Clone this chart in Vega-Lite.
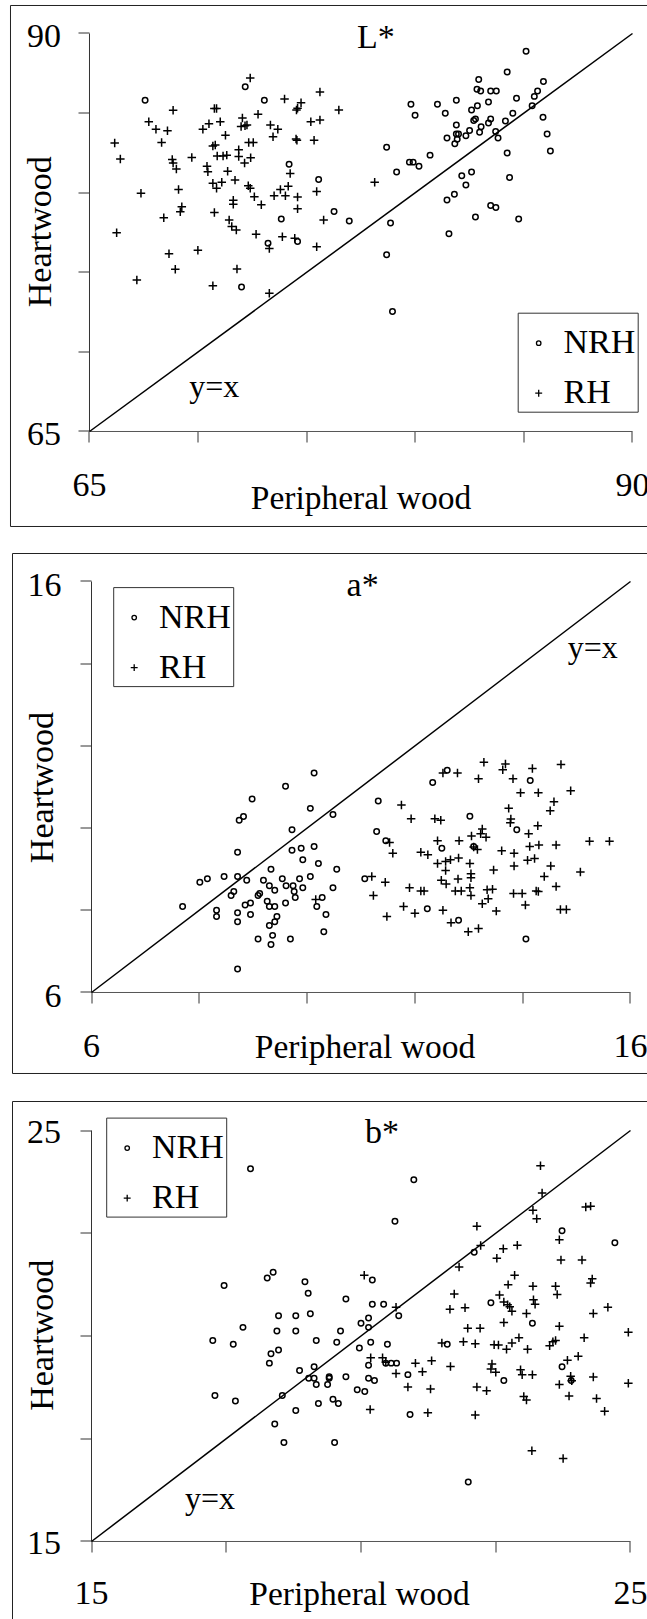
{
  "$schema": "https://vega.github.io/schema/vega-lite/v6.json",
  "padding": {"left": 9, "top": 4, "right": 0, "bottom": 0},
  "spacing": 27,
  "bounds": "flush",
  "background": "white",
  "datasets": {
    "one": [{}],
    "L": [
      {"g":"NRH","x":67.56,"y":85.80},{"g":"NRH","x":72.17,"y":86.65},{"g":"NRH","x":73.05,"y":85.80},{"g":"NRH","x":74.19,"y":81.79},{"g":"NRH","x":75.55,"y":80.83},{"g":"NRH","x":76.26,"y":78.82},{"g":"NRH","x":76.96,"y":78.22},{"g":"NRH","x":73.83,"y":78.35},{"g":"NRH","x":73.22,"y":76.82},{"g":"NRH","x":74.58,"y":76.93},{"g":"NRH","x":72.00,"y":74.08},{"g":"NRH","x":78.68,"y":82.85},{"g":"NRH","x":79.14,"y":81.30},{"g":"NRH","x":78.86,"y":78.10},{"g":"NRH","x":78.68,"y":76.10},{"g":"NRH","x":78.95,"y":72.54},{"g":"NRH","x":79.80,"y":85.56},{"g":"NRH","x":79.99,"y":84.86},{"g":"NRH","x":79.73,"y":81.92},{"g":"NRH","x":79.90,"y":81.92},{"g":"NRH","x":80.17,"y":81.66},{"g":"NRH","x":80.68,"y":82.36},{"g":"NRH","x":81.02,"y":85.56},{"g":"NRH","x":81.38,"y":84.99},{"g":"NRH","x":81.89,"y":85.80},{"g":"NRH","x":81.46,"y":83.44},{"g":"NRH","x":81.89,"y":84.25},{"g":"NRH","x":81.89,"y":83.68},{"g":"NRH","x":81.99,"y":83.68},{"g":"NRH","x":81.82,"y":83.08},{"g":"NRH","x":81.93,"y":83.36},{"g":"NRH","x":82.33,"y":83.57},{"g":"NRH","x":82.50,"y":83.91},{"g":"NRH","x":82.59,"y":85.20},{"g":"NRH","x":82.69,"y":84.53},{"g":"NRH","x":82.77,"y":84.63},{"g":"NRH","x":82.86,"y":85.46},{"g":"NRH","x":82.92,"y":87.11},{"g":"NRH","x":82.84,"y":86.50},{"g":"NRH","x":83.01,"y":86.39},{"g":"NRH","x":83.03,"y":84.14},{"g":"NRH","x":82.96,"y":83.80},{"g":"NRH","x":83.37,"y":85.69},{"g":"NRH","x":83.37,"y":84.38},{"g":"NRH","x":83.47,"y":84.63},{"g":"NRH","x":83.47,"y":86.39},{"g":"NRH","x":83.73,"y":86.39},{"g":"NRH","x":83.70,"y":83.85},{"g":"NRH","x":83.81,"y":83.44},{"g":"NRH","x":84.23,"y":87.58},{"g":"NRH","x":84.15,"y":84.50},{"g":"NRH","x":84.49,"y":84.99},{"g":"NRH","x":84.66,"y":85.93},{"g":"NRH","x":85.10,"y":88.88},{"g":"NRH","x":85.38,"y":85.46},{"g":"NRH","x":85.48,"y":86.05},{"g":"NRH","x":85.63,"y":86.39},{"g":"NRH","x":85.90,"y":86.99},{"g":"NRH","x":85.88,"y":84.74},{"g":"NRH","x":86.07,"y":83.68},{"g":"NRH","x":86.22,"y":82.62},{"g":"NRH","x":84.23,"y":82.49},{"g":"NRH","x":84.34,"y":80.96},{"g":"NRH","x":84.76,"y":78.35},{"g":"NRH","x":82.14,"y":81.07},{"g":"NRH","x":82.59,"y":81.30},{"g":"NRH","x":82.33,"y":80.49},{"g":"NRH","x":81.80,"y":79.90},{"g":"NRH","x":81.46,"y":79.54},{"g":"NRH","x":81.55,"y":77.42},{"g":"NRH","x":82.77,"y":78.48},{"g":"NRH","x":83.47,"y":79.20},{"g":"NRH","x":83.71,"y":79.07},
      {"g":"RH","x":66.16,"y":83.12},{"g":"RH","x":66.42,"y":82.11},{"g":"RH","x":66.25,"y":77.48},{"g":"RH","x":67.37,"y":79.96},{"g":"RH","x":67.18,"y":74.51},{"g":"RH","x":67.73,"y":84.46},{"g":"RH","x":68.06,"y":83.99},{"g":"RH","x":68.32,"y":83.15},{"g":"RH","x":68.59,"y":83.89},{"g":"RH","x":68.85,"y":85.18},{"g":"RH","x":68.81,"y":82.08},{"g":"RH","x":68.85,"y":81.87},{"g":"RH","x":69.00,"y":81.49},{"g":"RH","x":69.10,"y":80.20},{"g":"RH","x":69.25,"y":79.11},{"g":"RH","x":69.18,"y":78.80},{"g":"RH","x":68.42,"y":78.43},{"g":"RH","x":68.66,"y":76.16},{"g":"RH","x":68.95,"y":75.19},{"g":"RH","x":69.71,"y":82.21},{"g":"RH","x":69.99,"y":76.38},{"g":"RH","x":70.22,"y":83.99},{"g":"RH","x":70.41,"y":81.66},{"g":"RH","x":70.45,"y":81.32},{"g":"RH","x":70.50,"y":84.33},{"g":"RH","x":70.68,"y":82.93},{"g":"RH","x":70.75,"y":85.29},{"g":"RH","x":70.85,"y":85.29},{"g":"RH","x":70.79,"y":83.00},{"g":"RH","x":70.88,"y":82.30},{"g":"RH","x":71.02,"y":84.46},{"g":"RH","x":71.15,"y":82.30},{"g":"RH","x":70.68,"y":80.60},{"g":"RH","x":70.85,"y":80.28},{"g":"RH","x":71.09,"y":80.66},{"g":"RH","x":71.32,"y":82.36},{"g":"RH","x":71.36,"y":81.34},{"g":"RH","x":71.26,"y":83.61},{"g":"RH","x":71.70,"y":80.79},{"g":"RH","x":70.75,"y":78.75},{"g":"RH","x":71.43,"y":78.29},{"g":"RH","x":71.55,"y":77.88},{"g":"RH","x":71.76,"y":77.65},{"g":"RH","x":71.62,"y":79.52},{"g":"RH","x":71.62,"y":79.28},{"g":"RH","x":71.79,"y":75.21},{"g":"RH","x":70.68,"y":74.15},{"g":"RH","x":71.87,"y":82.70},{"g":"RH","x":71.87,"y":82.28},{"g":"RH","x":71.98,"y":84.16},{"g":"RH","x":72.04,"y":84.69},{"g":"RH","x":72.16,"y":84.21},{"g":"RH","x":72.25,"y":84.25},{"g":"RH","x":72.14,"y":81.87},{"g":"RH","x":72.33,"y":83.15},{"g":"RH","x":72.54,"y":83.15},{"g":"RH","x":72.42,"y":82.19},{"g":"RH","x":72.31,"y":80.43},{"g":"RH","x":72.40,"y":80.28},{"g":"RH","x":72.59,"y":79.75},{"g":"RH","x":72.91,"y":79.24},{"g":"RH","x":72.76,"y":84.93},{"g":"RH","x":72.40,"y":87.20},{"g":"RH","x":73.33,"y":84.25},{"g":"RH","x":73.45,"y":83.51},{"g":"RH","x":73.67,"y":83.99},{"g":"RH","x":73.98,"y":85.88},{"g":"RH","x":74.53,"y":85.20},{"g":"RH","x":74.58,"y":85.31},{"g":"RH","x":74.74,"y":85.65},{"g":"RH","x":74.51,"y":83.38},{"g":"RH","x":74.55,"y":83.29},{"g":"RH","x":75.19,"y":84.46},{"g":"RH","x":75.34,"y":83.29},{"g":"RH","x":75.61,"y":84.57},{"g":"RH","x":75.61,"y":86.33},{"g":"RH","x":76.48,"y":85.20},{"g":"RH","x":73.50,"y":79.81},{"g":"RH","x":73.79,"y":80.20},{"g":"RH","x":74.02,"y":79.81},{"g":"RH","x":74.15,"y":80.41},{"g":"RH","x":74.24,"y":81.21},{"g":"RH","x":74.58,"y":79.73},{"g":"RH","x":74.58,"y":78.99},{"g":"RH","x":75.46,"y":80.07},{"g":"RH","x":75.78,"y":78.29},{"g":"RH","x":75.46,"y":76.61},{"g":"RH","x":74.45,"y":77.14},{"g":"RH","x":73.88,"y":77.23},{"g":"RH","x":72.67,"y":77.39},{"g":"RH","x":73.28,"y":76.50},{"g":"RH","x":73.28,"y":73.68},{"g":"RH","x":78.13,"y":80.66}
    ],
    "A": [
      {"g":"NRH","x":7.69,"y":8.09},{"g":"NRH","x":8.01,"y":8.68},{"g":"NRH","x":8.15,"y":8.77},{"g":"NRH","x":8.46,"y":8.82},{"g":"NRH","x":8.32,"y":8.00},{"g":"NRH","x":8.32,"y":7.85},{"g":"NRH","x":8.59,"y":8.36},{"g":"NRH","x":8.64,"y":8.46},{"g":"NRH","x":8.71,"y":8.82},{"g":"NRH","x":8.71,"y":9.41},{"g":"NRH","x":8.74,"y":10.19},{"g":"NRH","x":8.82,"y":10.28},{"g":"NRH","x":8.98,"y":10.71},{"g":"NRH","x":8.88,"y":8.73},{"g":"NRH","x":8.85,"y":8.13},{"g":"NRH","x":8.95,"y":8.18},{"g":"NRH","x":8.71,"y":7.94},{"g":"NRH","x":8.71,"y":7.72},{"g":"NRH","x":8.95,"y":7.90},{"g":"NRH","x":8.71,"y":6.57},{"g":"NRH","x":9.09,"y":7.30},{"g":"NRH","x":9.09,"y":8.36},{"g":"NRH","x":9.12,"y":8.41},{"g":"NRH","x":9.19,"y":8.73},{"g":"NRH","x":9.26,"y":8.22},{"g":"NRH","x":9.30,"y":8.60},{"g":"NRH","x":9.33,"y":9.00},{"g":"NRH","x":9.30,"y":8.09},{"g":"NRH","x":9.40,"y":8.09},{"g":"NRH","x":9.40,"y":8.49},{"g":"NRH","x":9.44,"y":7.85},{"g":"NRH","x":9.40,"y":7.72},{"g":"NRH","x":9.30,"y":7.63},{"g":"NRH","x":9.36,"y":7.39},{"g":"NRH","x":9.33,"y":7.17},{"g":"NRH","x":9.60,"y":8.18},{"g":"NRH","x":9.54,"y":8.77},{"g":"NRH","x":9.61,"y":8.60},{"g":"NRH","x":9.74,"y":8.60},{"g":"NRH","x":9.76,"y":8.46},{"g":"NRH","x":9.78,"y":8.31},{"g":"NRH","x":9.86,"y":8.77},{"g":"NRH","x":9.92,"y":8.55},{"g":"NRH","x":9.92,"y":9.23},{"g":"NRH","x":9.72,"y":9.46},{"g":"NRH","x":9.89,"y":9.51},{"g":"NRH","x":9.72,"y":9.96},{"g":"NRH","x":9.60,"y":11.02},{"g":"NRH","x":10.06,"y":10.48},{"g":"NRH","x":10.13,"y":11.34},{"g":"NRH","x":10.06,"y":8.82},{"g":"NRH","x":10.13,"y":9.55},{"g":"NRH","x":10.21,"y":9.14},{"g":"NRH","x":10.28,"y":8.31},{"g":"NRH","x":10.18,"y":8.09},{"g":"NRH","x":10.35,"y":7.90},{"g":"NRH","x":10.31,"y":7.48},{"g":"NRH","x":9.69,"y":7.30},{"g":"NRH","x":10.48,"y":10.33},{"g":"NRH","x":10.48,"y":8.55},{"g":"NRH","x":10.55,"y":9.00},{"g":"NRH","x":11.07,"y":8.77},{"g":"NRH","x":11.29,"y":9.92},{"g":"NRH","x":11.32,"y":10.66},{"g":"NRH","x":11.46,"y":9.69},{"g":"NRH","x":12.33,"y":11.11},{"g":"NRH","x":12.60,"y":11.41},{"g":"NRH","x":12.50,"y":9.51},{"g":"NRH","x":12.23,"y":8.04},{"g":"NRH","x":12.81,"y":7.76},{"g":"NRH","x":13.02,"y":10.29},{"g":"NRH","x":13.09,"y":9.55},{"g":"NRH","x":13.89,"y":9.96},{"g":"NRH","x":14.14,"y":11.16},{"g":"NRH","x":14.06,"y":7.30},
      {"g":"RH","x":11.20,"y":8.82},{"g":"RH","x":11.23,"y":8.36},{"g":"RH","x":11.45,"y":8.68},{"g":"RH","x":11.48,"y":7.85},{"g":"RH","x":11.53,"y":9.65},{"g":"RH","x":11.59,"y":9.39},{"g":"RH","x":11.75,"y":10.56},{"g":"RH","x":11.79,"y":8.09},{"g":"RH","x":11.93,"y":10.23},{"g":"RH","x":11.90,"y":8.55},{"g":"RH","x":12.00,"y":7.93},{"g":"RH","x":12.11,"y":9.41},{"g":"RH","x":12.24,"y":9.35},{"g":"RH","x":12.11,"y":8.47},{"g":"RH","x":12.17,"y":8.47},{"g":"RH","x":12.37,"y":10.23},{"g":"RH","x":12.48,"y":10.19},{"g":"RH","x":12.42,"y":9.69},{"g":"RH","x":12.42,"y":9.14},{"g":"RH","x":12.52,"y":8.00},{"g":"RH","x":12.57,"y":9.19},{"g":"RH","x":12.66,"y":9.23},{"g":"RH","x":12.57,"y":8.97},{"g":"RH","x":12.49,"y":8.73},{"g":"RH","x":12.58,"y":8.64},{"g":"RH","x":12.67,"y":7.70},{"g":"RH","x":12.75,"y":8.47},{"g":"RH","x":12.86,"y":8.47},{"g":"RH","x":12.80,"y":8.76},{"g":"RH","x":12.81,"y":9.27},{"g":"RH","x":12.82,"y":9.69},{"g":"RH","x":12.52,"y":11.34},{"g":"RH","x":12.79,"y":11.34},{"g":"RH","x":13.18,"y":11.20},{"g":"RH","x":13.28,"y":11.60},{"g":"RH","x":13.02,"y":9.14},{"g":"RH","x":13.04,"y":8.89},{"g":"RH","x":13.04,"y":8.79},{"g":"RH","x":13.02,"y":8.55},{"g":"RH","x":13.04,"y":8.36},{"g":"RH","x":12.99,"y":7.48},{"g":"RH","x":13.18,"y":7.56},{"g":"RH","x":13.05,"y":9.81},{"g":"RH","x":13.09,"y":9.54},{"g":"RH","x":13.16,"y":9.48},{"g":"RH","x":13.22,"y":9.86},{"g":"RH","x":13.25,"y":9.98},{"g":"RH","x":13.32,"y":9.78},{"g":"RH","x":13.25,"y":8.16},{"g":"RH","x":13.34,"y":8.50},{"g":"RH","x":13.36,"y":8.28},{"g":"RH","x":13.44,"y":8.51},{"g":"RH","x":13.46,"y":8.98},{"g":"RH","x":13.51,"y":7.98},{"g":"RH","x":13.61,"y":9.45},{"g":"RH","x":13.63,"y":11.42},{"g":"RH","x":13.68,"y":11.56},{"g":"RH","x":13.82,"y":11.20},{"g":"RH","x":13.96,"y":10.86},{"g":"RH","x":13.74,"y":10.48},{"g":"RH","x":13.78,"y":10.22},{"g":"RH","x":13.77,"y":10.13},{"g":"RH","x":13.84,"y":9.39},{"g":"RH","x":13.84,"y":9.08},{"g":"RH","x":13.83,"y":8.41},{"g":"RH","x":13.99,"y":8.41},{"g":"RH","x":14.05,"y":8.13},{"g":"RH","x":14.11,"y":9.86},{"g":"RH","x":14.13,"y":9.55},{"g":"RH","x":14.09,"y":9.22},{"g":"RH","x":14.22,"y":9.26},{"g":"RH","x":14.18,"y":11.45},{"g":"RH","x":14.29,"y":10.86},{"g":"RH","x":14.28,"y":10.06},{"g":"RH","x":14.30,"y":9.59},{"g":"RH","x":14.25,"y":8.47},{"g":"RH","x":14.29,"y":8.46},{"g":"RH","x":14.40,"y":8.82},{"g":"RH","x":14.52,"y":9.08},{"g":"RH","x":14.51,"y":10.42},{"g":"RH","x":14.58,"y":10.64},{"g":"RH","x":14.62,"y":9.59},{"g":"RH","x":14.62,"y":8.58},{"g":"RH","x":14.71,"y":11.55},{"g":"RH","x":14.89,"y":10.91},{"g":"RH","x":14.70,"y":8.02},{"g":"RH","x":14.81,"y":8.02},{"g":"RH","x":15.07,"y":8.93},{"g":"RH","x":15.24,"y":9.68},{"g":"RH","x":15.61,"y":9.68},{"g":"RH","x":10.16,"y":8.26}
    ],
    "B": [
      {"g":"NRH","x":17.95,"y":24.07},{"g":"NRH","x":20.98,"y":23.80},{"g":"NRH","x":20.63,"y":22.79},{"g":"NRH","x":22.10,"y":22.04},{"g":"NRH","x":23.73,"y":22.56},{"g":"NRH","x":24.71,"y":22.27},{"g":"NRH","x":17.46,"y":21.23},{"g":"NRH","x":18.26,"y":21.41},{"g":"NRH","x":18.37,"y":21.55},{"g":"NRH","x":18.96,"y":21.32},{"g":"NRH","x":19.02,"y":21.04},{"g":"NRH","x":20.21,"y":21.36},{"g":"NRH","x":19.72,"y":20.90},{"g":"NRH","x":20.21,"y":20.77},{"g":"NRH","x":20.42,"y":20.77},{"g":"NRH","x":20.70,"y":20.49},{"g":"NRH","x":20.14,"y":20.44},{"g":"NRH","x":20.00,"y":20.31},{"g":"NRH","x":20.14,"y":20.21},{"g":"NRH","x":19.06,"y":20.54},{"g":"NRH","x":18.79,"y":20.49},{"g":"NRH","x":18.47,"y":20.49},{"g":"NRH","x":17.81,"y":20.21},{"g":"NRH","x":18.44,"y":20.12},{"g":"NRH","x":18.79,"y":20.12},{"g":"NRH","x":19.62,"y":20.12},{"g":"NRH","x":17.25,"y":19.89},{"g":"NRH","x":17.63,"y":19.80},{"g":"NRH","x":19.17,"y":19.89},{"g":"NRH","x":19.55,"y":19.85},{"g":"NRH","x":20.18,"y":19.85},{"g":"NRH","x":20.49,"y":19.80},{"g":"NRH","x":19.97,"y":19.71},{"g":"NRH","x":18.47,"y":19.66},{"g":"NRH","x":18.33,"y":19.57},{"g":"NRH","x":18.30,"y":19.34},{"g":"NRH","x":18.86,"y":19.16},{"g":"NRH","x":19.13,"y":19.25},{"g":"NRH","x":19.03,"y":18.97},{"g":"NRH","x":19.13,"y":18.97},{"g":"NRH","x":19.17,"y":18.82},{"g":"NRH","x":19.38,"y":18.82},{"g":"NRH","x":19.41,"y":19.01},{"g":"NRH","x":19.41,"y":18.97},{"g":"NRH","x":19.72,"y":19.01},{"g":"NRH","x":20.14,"y":18.97},{"g":"NRH","x":20.25,"y":18.92},{"g":"NRH","x":20.14,"y":19.29},{"g":"NRH","x":20.46,"y":19.34},{"g":"NRH","x":20.56,"y":19.34},{"g":"NRH","x":20.66,"y":19.34},{"g":"NRH","x":20.87,"y":19.06},{"g":"NRH","x":19.93,"y":18.69},{"g":"NRH","x":20.07,"y":18.65},{"g":"NRH","x":18.54,"y":18.55},{"g":"NRH","x":17.29,"y":18.55},{"g":"NRH","x":17.67,"y":18.42},{"g":"NRH","x":19.21,"y":18.36},{"g":"NRH","x":19.48,"y":18.46},{"g":"NRH","x":19.58,"y":18.36},{"g":"NRH","x":18.79,"y":18.19},{"g":"NRH","x":20.91,"y":18.09},{"g":"NRH","x":18.40,"y":17.86},{"g":"NRH","x":18.57,"y":17.41},{"g":"NRH","x":19.51,"y":17.41},{"g":"NRH","x":21.60,"y":19.80},{"g":"NRH","x":22.41,"y":20.81},{"g":"NRH","x":23.18,"y":20.31},{"g":"NRH","x":23.73,"y":19.25},{"g":"NRH","x":22.65,"y":18.92},{"g":"NRH","x":23.90,"y":18.92},{"g":"NRH","x":21.99,"y":16.45},
      {"g":"RH","x":23.33,"y":24.14},{"g":"RH","x":23.36,"y":23.48},{"g":"RH","x":23.19,"y":23.06},{"g":"RH","x":23.26,"y":22.85},{"g":"RH","x":24.17,"y":23.14},{"g":"RH","x":24.26,"y":23.16},{"g":"RH","x":22.15,"y":22.67},{"g":"RH","x":22.22,"y":22.20},{"g":"RH","x":21.82,"y":21.68},{"g":"RH","x":22.52,"y":21.89},{"g":"RH","x":22.64,"y":22.12},{"g":"RH","x":22.90,"y":22.21},{"g":"RH","x":23.68,"y":22.34},{"g":"RH","x":23.71,"y":21.85},{"g":"RH","x":24.10,"y":21.85},{"g":"RH","x":22.85,"y":21.48},{"g":"RH","x":22.73,"y":21.25},{"g":"RH","x":24.29,"y":21.39},{"g":"RH","x":24.26,"y":21.29},{"g":"RH","x":23.19,"y":21.21},{"g":"RH","x":23.61,"y":21.21},{"g":"RH","x":23.64,"y":21.01},{"g":"RH","x":21.73,"y":21.02},{"g":"RH","x":21.65,"y":20.65},{"g":"RH","x":21.93,"y":20.69},{"g":"RH","x":22.57,"y":21.00},{"g":"RH","x":22.65,"y":20.83},{"g":"RH","x":22.72,"y":20.76},{"g":"RH","x":22.76,"y":20.71},{"g":"RH","x":22.80,"y":20.60},{"g":"RH","x":23.20,"y":20.88},{"g":"RH","x":23.23,"y":20.77},{"g":"RH","x":23.07,"y":20.55},{"g":"RH","x":24.31,"y":20.55},{"g":"RH","x":24.58,"y":20.70},{"g":"RH","x":20.65,"y":20.70},{"g":"RH","x":20.06,"y":21.48},{"g":"RH","x":21.98,"y":20.19},{"g":"RH","x":22.21,"y":20.19},{"g":"RH","x":22.65,"y":20.33},{"g":"RH","x":22.93,"y":19.96},{"g":"RH","x":23.68,"y":20.24},{"g":"RH","x":24.14,"y":19.96},{"g":"RH","x":24.96,"y":20.09},{"g":"RH","x":21.50,"y":19.83},{"g":"RH","x":21.90,"y":19.86},{"g":"RH","x":22.12,"y":19.81},{"g":"RH","x":22.47,"y":19.79},{"g":"RH","x":22.55,"y":19.78},{"g":"RH","x":22.70,"y":19.68},{"g":"RH","x":22.80,"y":19.83},{"g":"RH","x":23.09,"y":19.68},{"g":"RH","x":23.50,"y":19.76},{"g":"RH","x":23.56,"y":19.86},{"g":"RH","x":23.61,"y":19.89},{"g":"RH","x":24.03,"y":19.51},{"g":"RH","x":23.83,"y":19.41},{"g":"RH","x":20.18,"y":19.47},{"g":"RH","x":20.40,"y":19.47},{"g":"RH","x":20.46,"y":19.36},{"g":"RH","x":20.65,"y":19.09},{"g":"RH","x":21.01,"y":19.34},{"g":"RH","x":21.14,"y":19.13},{"g":"RH","x":21.31,"y":19.40},{"g":"RH","x":21.66,"y":19.26},{"g":"RH","x":22.43,"y":19.32},{"g":"RH","x":22.41,"y":19.20},{"g":"RH","x":22.50,"y":19.12},{"g":"RH","x":22.96,"y":19.18},{"g":"RH","x":22.99,"y":19.06},{"g":"RH","x":23.18,"y":19.06},{"g":"RH","x":23.89,"y":19.02},{"g":"RH","x":23.91,"y":18.91},{"g":"RH","x":23.68,"y":18.82},{"g":"RH","x":24.31,"y":19.00},{"g":"RH","x":24.96,"y":18.85},{"g":"RH","x":20.87,"y":18.76},{"g":"RH","x":21.29,"y":18.71},{"g":"RH","x":22.15,"y":18.76},{"g":"RH","x":22.33,"y":18.67},{"g":"RH","x":23.02,"y":18.53},{"g":"RH","x":23.07,"y":18.44},{"g":"RH","x":23.86,"y":18.54},{"g":"RH","x":24.37,"y":18.48},{"g":"RH","x":24.52,"y":18.17},{"g":"RH","x":20.17,"y":18.21},{"g":"RH","x":21.24,"y":18.13},{"g":"RH","x":22.12,"y":18.08},{"g":"RH","x":23.17,"y":17.21},{"g":"RH","x":23.75,"y":17.02}
    ]
  },
  "resolve": {"scale": {"x": "independent", "y": "independent", "shape": "independent"}, "legend": {"shape": "independent"}, "axis": {"x": "independent", "y": "independent"}},
  "vconcat": [
    {
      "width": 638, "height": 521,
      "layer": [
        {"data": {"name": "one"}, "mark": {"type": "rule", "color": "#222", "strokeWidth": 1}, "encoding": {"x": {"datum": 61.363, "type": "quantitative", "scale": {"domain": [61.340, 90.714], "nice": false, "zero": false}, "axis": {"values": [65,70,75,80,85,90], "offset": -94.5, "labelPadding": 53.5, "labelBaseline": "alphabetic", "labelExpr": "datum.value == 65 || datum.value == 90 ? datum.label : ''", "title": "Peripheral wood", "titleX": 351, "titleY": 77.5, "titleBaseline": "alphabetic", "titleAlign": "center", "titleFontSize": 33.5}}, "y": {"datum": 59.033, "type": "quantitative", "scale": {"domain": [59.064, 91.790], "nice": false, "zero": false}, "axis": {"values": [65,70,75,80,85,90], "offset": -79.5, "labelPadding": 17.5, "labelAlign": "right", "labelBaseline": "alphabetic", "labelOffset": 13.3, "labelExpr": "datum.value == 65 || datum.value == 90 ? datum.label : ''", "title": "Heartwood", "titleX": -39, "titleY": 226.7, "titleAngle": 270, "titleBaseline": "alphabetic", "titleAlign": "center"}}, "y2": {"datum": 91.759}}},
        {"data": {"name": "one"}, "mark": {"type": "rule", "color": "#222", "strokeWidth": 1}, "encoding": {"x": {"datum": 61.363, "type": "quantitative"}, "x2": {"datum": 90.714}, "y": {"datum": 91.759, "type": "quantitative"}}},
        {"data": {"name": "one"}, "mark": {"type": "rule", "color": "#222", "strokeWidth": 1}, "encoding": {"x": {"datum": 61.363, "type": "quantitative"}, "x2": {"datum": 90.714}, "y": {"datum": 59.033, "type": "quantitative"}}},
        {"data": {"name": "one"}, "mark": {"type": "rule", "color": "#333", "strokeWidth": 1}, "encoding": {"x": {"datum": 65, "type": "quantitative"}, "y": {"datum": 65, "type": "quantitative"}, "y2": {"datum": 90}}},
        {"data": {"name": "one"}, "mark": {"type": "rule", "color": "#555", "strokeWidth": 1}, "encoding": {"x": {"datum": 65, "type": "quantitative"}, "x2": {"datum": 90}, "y": {"datum": 65, "type": "quantitative"}}},
        {"data": {"name": "one"}, "mark": {"type": "rule", "color": "black", "strokeWidth": 1.5}, "encoding": {"x": {"datum": 65, "type": "quantitative"}, "x2": {"datum": 90}, "y": {"datum": 65, "type": "quantitative"}, "y2": {"datum": 90}}},
        {"data": {"name": "one"}, "mark": {"type": "text", "font": "Liberation Serif", "fontSize": 34, "align": "center", "baseline": "alphabetic", "color": "black"}, "encoding": {"x": {"datum": 78.19, "type": "quantitative"}, "y": {"datum": 89.06, "type": "quantitative"}, "text": {"value": "L*"}}},
        {"data": {"name": "one"}, "mark": {"type": "text", "font": "Liberation Serif", "fontSize": 32, "align": "center", "baseline": "alphabetic", "color": "black"}, "encoding": {"x": {"datum": 70.74, "type": "quantitative"}, "y": {"datum": 67.18, "type": "quantitative"}, "text": {"value": "y=x"}}},
        {"data": {"name": "L"}, "mark": {"type": "point", "filled": false, "color": "black", "strokeWidth": 1.5, "size": 30, "opacity": 1}, "encoding": {"x": {"field": "x", "type": "quantitative"}, "y": {"field": "y", "type": "quantitative"}, "shape": {"field": "g", "type": "nominal", "scale": {"domain": ["NRH", "RH"], "range": ["circle", "M-1.55,0H1.55M0,-1.55V1.55"]}, "legend": {"orient": "none", "legendX": 507.7, "legendY": 307.7, "title": " ", "titleFontSize": 6, "titlePadding": 6, "padding": 1.5, "rowPadding": 16, "labelOffset": 7.8, "symbolOffset": 2.5, "symbolSize": 20, "symbolStrokeColor": "black", "symbolStrokeWidth": 1.3, "strokeColor": "#333", "labelFontSize": 34, "labelFont": "Liberation Serif", "labelColor": "black", "labelExpr": "datum.label + ' '"}}}}
      ]
    },
    {
      "width": 638, "height": 521,
      "layer": [
        {"data": {"name": "one"}, "mark": {"type": "rule", "color": "#222", "strokeWidth": 1}, "encoding": {"x": {"datum": 4.5343, "type": "quantitative", "scale": {"domain": [4.4879, 16.3247], "nice": false, "zero": false}, "axis": {"values": [6,8,10,12,14,16], "offset": -81.5, "labelPadding": 53.5, "labelBaseline": "alphabetic", "labelExpr": "datum.value == 6 || datum.value == 16 ? datum.label : ''", "title": "Peripheral wood", "titleX": 355, "titleY": 65.5, "titleBaseline": "alphabetic", "titleAlign": "center", "titleFontSize": 33.5}}, "y": {"datum": 4.0292, "type": "quantitative", "scale": {"domain": [4.0170, 16.6934], "nice": false, "zero": false}, "axis": {"values": [6,8,10,12,14,16], "offset": -81.5, "labelPadding": 19, "labelAlign": "right", "labelBaseline": "alphabetic", "labelOffset": 14.2, "labelExpr": "datum.value == 6 || datum.value == 16 ? datum.label : ''", "title": "Heartwood", "titleX": -39, "titleY": 234.6, "titleAngle": 270, "titleBaseline": "alphabetic", "titleAlign": "center"}}, "y2": {"datum": 16.6812}}},
        {"data": {"name": "one"}, "mark": {"type": "rule", "color": "#222", "strokeWidth": 1}, "encoding": {"x": {"datum": 4.5343, "type": "quantitative"}, "x2": {"datum": 16.3247}, "y": {"datum": 16.6812, "type": "quantitative"}}},
        {"data": {"name": "one"}, "mark": {"type": "rule", "color": "#222", "strokeWidth": 1}, "encoding": {"x": {"datum": 4.5343, "type": "quantitative"}, "x2": {"datum": 16.3247}, "y": {"datum": 4.0292, "type": "quantitative"}}},
        {"data": {"name": "one"}, "mark": {"type": "rule", "color": "#333", "strokeWidth": 1}, "encoding": {"x": {"datum": 6, "type": "quantitative"}, "y": {"datum": 6, "type": "quantitative"}, "y2": {"datum": 16}}},
        {"data": {"name": "one"}, "mark": {"type": "rule", "color": "#555", "strokeWidth": 1}, "encoding": {"x": {"datum": 6, "type": "quantitative"}, "x2": {"datum": 16}, "y": {"datum": 6, "type": "quantitative"}}},
        {"data": {"name": "one"}, "mark": {"type": "rule", "color": "black", "strokeWidth": 1.5}, "encoding": {"x": {"datum": 6, "type": "quantitative"}, "x2": {"datum": 16}, "y": {"datum": 6, "type": "quantitative"}, "y2": {"datum": 16}}},
        {"data": {"name": "one"}, "mark": {"type": "text", "font": "Liberation Serif", "fontSize": 34, "align": "center", "baseline": "alphabetic", "color": "black"}, "encoding": {"x": {"datum": 11.03, "type": "quantitative"}, "y": {"datum": 15.64, "type": "quantitative"}, "text": {"value": "a*"}}},
        {"data": {"name": "one"}, "mark": {"type": "text", "font": "Liberation Serif", "fontSize": 32, "align": "center", "baseline": "alphabetic", "color": "black"}, "encoding": {"x": {"datum": 15.30, "type": "quantitative"}, "y": {"datum": 14.13, "type": "quantitative"}, "text": {"value": "y=x"}}},
        {"data": {"name": "A"}, "mark": {"type": "point", "filled": false, "color": "black", "strokeWidth": 1.5, "size": 30, "opacity": 1}, "encoding": {"x": {"field": "x", "type": "quantitative"}, "y": {"field": "y", "type": "quantitative"}, "shape": {"field": "g", "type": "nominal", "scale": {"domain": ["NRH", "RH"], "range": ["circle", "M-1.55,0H1.55M0,-1.55V1.55"]}, "legend": {"orient": "none", "legendX": 103.2, "legendY": 34.1, "title": " ", "titleFontSize": 6, "titlePadding": 6, "padding": 1.5, "rowPadding": 16, "labelOffset": 7.8, "symbolOffset": 2.5, "symbolSize": 20, "symbolStrokeColor": "black", "symbolStrokeWidth": 1.3, "strokeColor": "#333", "labelFontSize": 34, "labelFont": "Liberation Serif", "labelColor": "black", "labelExpr": "datum.label + ' '"}}}}
      ]
    },
    {
      "width": 638, "height": 519,
      "layer": [
        {"data": {"name": "one"}, "mark": {"type": "rule", "color": "#222", "strokeWidth": 1}, "encoding": {"x": {"datum": 13.5343, "type": "quantitative", "scale": {"domain": [13.4879, 25.3247], "nice": false, "zero": false}, "axis": {"values": [15,17.5,20,22.5,25], "offset": -78.5, "labelPadding": 51, "labelBaseline": "alphabetic", "labelExpr": "datum.value == 15 || datum.value == 25 ? datum.label : ''", "title": "Peripheral wood", "titleX": 349.6, "titleY": 63, "titleBaseline": "alphabetic", "titleAlign": "center", "titleFontSize": 33.5}}, "y": {"datum": 13.09, "type": "quantitative", "scale": {"domain": [13.09, 25.7178], "nice": false, "zero": false}, "axis": {"values": [15,17.5,20,22.5,25], "offset": -81.5, "labelPadding": 19.5, "labelAlign": "right", "labelBaseline": "alphabetic", "labelOffset": 12.7, "labelExpr": "datum.value == 15 || datum.value == 25 ? datum.label : ''", "title": "Heartwood", "titleX": -39, "titleY": 234.3, "titleAngle": 270, "titleBaseline": "alphabetic", "titleAlign": "center"}}, "y2": {"datum": 25.7056}}},
        {"data": {"name": "one"}, "mark": {"type": "rule", "color": "#222", "strokeWidth": 1}, "encoding": {"x": {"datum": 13.5343, "type": "quantitative"}, "x2": {"datum": 25.3247}, "y": {"datum": 25.7056, "type": "quantitative"}}},
        {"data": {"name": "one"}, "mark": {"type": "rule", "color": "#333", "strokeWidth": 1}, "encoding": {"x": {"datum": 15, "type": "quantitative"}, "y": {"datum": 15, "type": "quantitative"}, "y2": {"datum": 25}}},
        {"data": {"name": "one"}, "mark": {"type": "rule", "color": "#555", "strokeWidth": 1}, "encoding": {"x": {"datum": 15, "type": "quantitative"}, "x2": {"datum": 25}, "y": {"datum": 15, "type": "quantitative"}}},
        {"data": {"name": "one"}, "mark": {"type": "rule", "color": "black", "strokeWidth": 1.5}, "encoding": {"x": {"datum": 15, "type": "quantitative"}, "x2": {"datum": 25}, "y": {"datum": 15, "type": "quantitative"}, "y2": {"datum": 25}}},
        {"data": {"name": "one"}, "mark": {"type": "text", "font": "Liberation Serif", "fontSize": 34, "align": "center", "baseline": "alphabetic", "color": "black"}, "encoding": {"x": {"datum": 20.39, "type": "quantitative"}, "y": {"datum": 24.69, "type": "quantitative"}, "text": {"value": "b*"}}},
        {"data": {"name": "one"}, "mark": {"type": "text", "font": "Liberation Serif", "fontSize": 32, "align": "center", "baseline": "alphabetic", "color": "black"}, "encoding": {"x": {"datum": 17.20, "type": "quantitative"}, "y": {"datum": 15.80, "type": "quantitative"}, "text": {"value": "y=x"}}},
        {"data": {"name": "B"}, "mark": {"type": "point", "filled": false, "color": "black", "strokeWidth": 1.5, "size": 30, "opacity": 1}, "encoding": {"x": {"field": "x", "type": "quantitative"}, "y": {"field": "y", "type": "quantitative"}, "shape": {"field": "g", "type": "nominal", "scale": {"domain": ["NRH", "RH"], "range": ["circle", "M-1.55,0H1.55M0,-1.55V1.55"]}, "legend": {"orient": "none", "legendX": 96.2, "legendY": 16.6, "title": " ", "titleFontSize": 6, "titlePadding": 6, "padding": 1.5, "rowPadding": 16, "labelOffset": 7.8, "symbolOffset": 2.5, "symbolSize": 20, "symbolStrokeColor": "black", "symbolStrokeWidth": 1.3, "strokeColor": "#333", "labelFontSize": 34, "labelFont": "Liberation Serif", "labelColor": "black", "labelExpr": "datum.label + ' '"}}}}
      ]
    }
  ],
  "config": {
    "view": {"stroke": null},
    "font": "Liberation Serif",
    "axis": {"domain": false, "grid": false, "ticks": true, "tickSize": 11, "tickColor": "#333", "tickWidth": 1, "translate": 0, "labelFont": "Liberation Serif", "labelFontSize": 34, "labelColor": "black", "labelFlush": false, "labelOverlap": false, "labelBound": false, "titleFont": "Liberation Serif", "titleFontSize": 34, "titleFontWeight": "normal", "titleColor": "black"},
    "legend": {"titleFont": "Liberation Serif", "titleFontWeight": "normal"}
  }
}
